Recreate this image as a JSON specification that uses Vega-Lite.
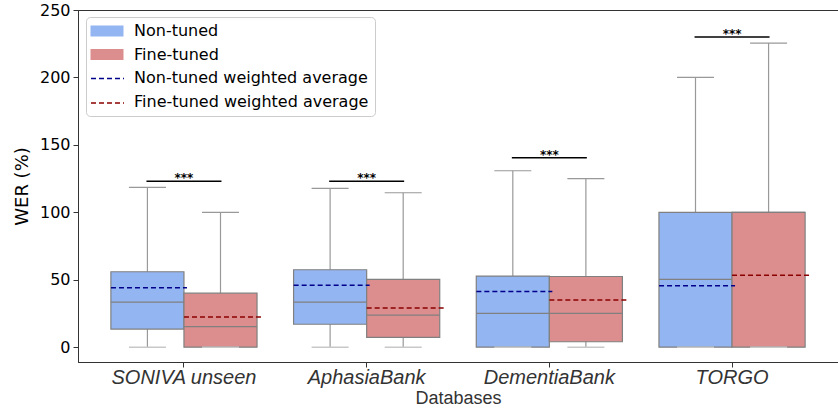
{
  "$schema": "https://vega.github.io/schema/vega-lite/v6.json",
  "width": 760,
  "height": 352,
  "autosize": {"type": "none"},
  "padding": {"left": 78, "top": 10, "right": 0, "bottom": 48},
  "config": {
    "font": "DejaVu Sans",
    "view": {"stroke": "#333", "strokeWidth": 1},
    "axis": {"grid": false, "domainColor": "#333", "tickColor": "#333", "labelColor": "#000", "titleColor": "#000", "titleFontWeight": "normal", "tickSize": 5},
    "legend": {"labelFont": "DejaVu Sans", "labelFontSize": 16, "labelColor": "#000", "labelLimit": 400, "symbolSize": 225, "rowPadding": 7.5, "padding": 6, "symbolOffset": 7, "labelOffset": 19}
  },
  "datasets": {
    "boxes": [
      {"db": "SONIVA unseen", "group": "Non-tuned", "meanName": "Non-tuned weighted average", "lo": 0, "q1": 13.4, "med": 33.4, "q3": 55.9, "hi": 118.5, "mean": 44.0},
      {"db": "SONIVA unseen", "group": "Fine-tuned", "meanName": "Fine-tuned weighted average", "lo": 0, "q1": 0, "med": 15.3, "q3": 40.0, "hi": 100, "mean": 22.3},
      {"db": "AphasiaBank", "group": "Non-tuned", "meanName": "Non-tuned weighted average", "lo": 0, "q1": 17.0, "med": 33.4, "q3": 57.4, "hi": 117.7, "mean": 46.0},
      {"db": "AphasiaBank", "group": "Fine-tuned", "meanName": "Fine-tuned weighted average", "lo": 0, "q1": 7.2, "med": 23.7, "q3": 50.2, "hi": 114.5, "mean": 29.0},
      {"db": "DementiaBank", "group": "Non-tuned", "meanName": "Non-tuned weighted average", "lo": 0, "q1": 0, "med": 25.0, "q3": 52.7, "hi": 130.8, "mean": 41.3},
      {"db": "DementiaBank", "group": "Fine-tuned", "meanName": "Fine-tuned weighted average", "lo": 0, "q1": 4.0, "med": 25.0, "q3": 52.4, "hi": 125.0, "mean": 34.9},
      {"db": "TORGO", "group": "Non-tuned", "meanName": "Non-tuned weighted average", "lo": 0, "q1": 0, "med": 50.2, "q3": 100, "hi": 200, "mean": 45.5},
      {"db": "TORGO", "group": "Fine-tuned", "meanName": "Fine-tuned weighted average", "lo": 0, "q1": 0, "med": 100, "q3": 100, "hi": 225.5, "mean": 53.4}
    ],
    "sig": [
      {"db": "SONIVA unseen", "y": 123, "label": "***"},
      {"db": "AphasiaBank", "y": 123, "label": "***"},
      {"db": "DementiaBank", "y": 140.4, "label": "***"},
      {"db": "TORGO", "y": 230, "label": "***"}
    ]
  },
  "encoding": {
    "x": {
      "field": "db", "type": "nominal",
      "sort": ["SONIVA unseen", "AphasiaBank", "DementiaBank", "TORGO"],
      "scale": {"paddingInner": 0.2, "paddingOuter": 0.18},
      "axis": {"title": "Databases", "labelAngle": 0, "labelFont": "Liberation Sans", "labelFontStyle": "italic", "labelFontSize": 20, "labelColor": "#333", "labelPadding": 0, "titleFont": "Liberation Sans", "titleFontSize": 18, "titleColor": "#333", "titlePadding": 2}
    }
  },
  "layer": [
    {
      "data": {"name": "boxes"},
      "mark": {"type": "rule", "color": "#999", "strokeWidth": 1.2},
      "encoding": {
        "xOffset": {"field": "group", "sort": ["Non-tuned", "Fine-tuned"], "scale": {"paddingInner": 0, "paddingOuter": 0}},
        "y": {"field": "lo", "type": "quantitative", "scale": {"domain": [-11, 250], "nice": false, "zero": false},
          "axis": {"title": "WER (%)", "values": [0, 50, 100, 150, 200, 250], "labelFontSize": 16, "titleFontSize": 18, "titlePadding": 8, "labelPadding": 3}},
        "y2": {"field": "hi"}
      }
    },
    {
      "data": {"name": "boxes"},
      "mark": {"type": "bar", "stroke": "#808080", "strokeWidth": 1.2, "opacity": 1},
      "encoding": {
        "xOffset": {"field": "group", "sort": ["Non-tuned", "Fine-tuned"]},
        "y": {"field": "q1", "type": "quantitative"},
        "y2": {"field": "q3"},
        "fill": {
          "field": "group", "type": "nominal",
          "scale": {"domain": ["Non-tuned", "Fine-tuned", "Non-tuned weighted average", "Fine-tuned weighted average"], "range": ["#93b5f2", "#dc8d8d", "transparent", "transparent"]},
          "legend": {
            "title": null, "orient": "none", "legendX": 8, "legendY": 7,
            "fillColor": "white", "strokeColor": "#cccccc", "cornerRadius": 4,
            "symbolType": "M-2.2,-0.73H2.2V0.73H-2.2Z",
            "symbolStrokeWidth": 0
          }
        }
      }
    },
    {
      "data": {"name": "boxes"},
      "mark": {"type": "tick", "color": "#808080", "thickness": 1.2, "size": 73, "opacity": 1},
      "encoding": {
        "xOffset": {"field": "group", "sort": ["Non-tuned", "Fine-tuned"]},
        "y": {"field": "med", "type": "quantitative"}
      }
    },
    {
      "data": {"name": "boxes"},
      "mark": {"type": "tick", "color": "#999", "thickness": 1.2, "size": 37, "opacity": 1},
      "encoding": {
        "xOffset": {"field": "group", "sort": ["Non-tuned", "Fine-tuned"]},
        "y": {"field": "hi", "type": "quantitative"}
      }
    },
    {
      "data": {"name": "boxes"},
      "mark": {"type": "tick", "color": "#c8c8c8", "thickness": 1.5, "size": 37, "opacity": 1},
      "encoding": {
        "xOffset": {"field": "group", "sort": ["Non-tuned", "Fine-tuned"]},
        "y": {"field": "lo", "type": "quantitative"}
      }
    },
    {
      "data": {"name": "boxes"},
      "transform": [{"filter": "datum.group == 'Non-tuned'"}],
      "mark": {"type": "rule", "strokeDash": [5, 3], "strokeWidth": 1.5, "opacity": 1, "xOffset": -73, "x2Offset": 3},
      "encoding": {
        "x2": {"field": "db"},
        "y": {"field": "mean", "type": "quantitative"},
        "stroke": {
          "field": "meanName", "type": "nominal",
          "scale": {"domain": ["Non-tuned weighted average", "Fine-tuned weighted average"], "range": ["#00008b", "#8b0000"]},
          "legend": {
            "title": null, "orient": "none", "legendX": 8, "legendY": 54,
            "labelOpacity": 0,
            "symbolType": "M-2.2,0H2.2", "symbolDash": [5, 3], "symbolStrokeWidth": 1.5
          }
        }
      }
    },
    {
      "data": {"name": "boxes"},
      "transform": [{"filter": "datum.group == 'Fine-tuned'"}],
      "mark": {"type": "rule", "strokeDash": [5, 3], "strokeWidth": 1.5, "opacity": 1, "xOffset": 0, "x2Offset": 77},
      "encoding": {
        "x2": {"field": "db"},
        "y": {"field": "mean", "type": "quantitative"},
        "stroke": {"field": "meanName", "type": "nominal"}
      }
    },
    {
      "data": {"name": "sig"},
      "mark": {"type": "tick", "color": "#000", "thickness": 1.5, "size": 75, "opacity": 1},
      "encoding": {
        "y": {"field": "y", "type": "quantitative"}
      }
    },
    {
      "data": {"name": "sig"},
      "mark": {"type": "text", "baseline": "alphabetic", "fontSize": 12, "fontWeight": "bold", "dy": 1, "color": "#000"},
      "encoding": {
        "y": {"field": "y", "type": "quantitative"},
        "text": {"field": "label"}
      }
    }
  ]
}
